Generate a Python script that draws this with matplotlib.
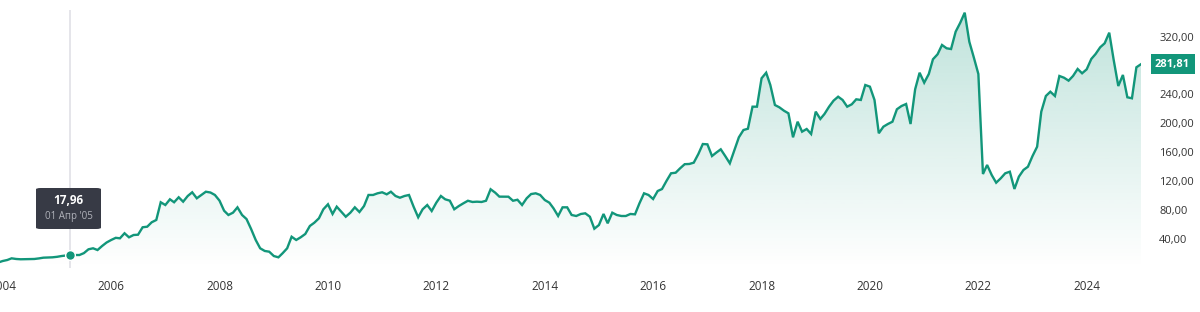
import numpy as np
import pandas as pd
import matplotlib
matplotlib.use('Agg')
import matplotlib.pyplot as plt
import matplotlib.dates as mdates
from matplotlib.patches import Polygon, FancyBboxPatch

plt.rcParams['font.family'] = ['Open Sans', 'DejaVu Sans']

# Monthly prices, Dec 2003 .. Jan 2025
start_month = '2003-12-01'
prices = [
    7.3, 9.4, 10.8, 13.1, 12.2, 11.8, 11.9, 12.0, 12.2, 13.0, 14.0, 14.3, 14.5,   # 2003-12 .. 2004-12
    15.2, 16.3, 17.0, 17.96, 17.7, 17.7, 20.3, 25.6, 27.0, 24.6, 30.2, 35.0,      # 2005
    38.5, 41.5, 40.8, 47.8, 42.2, 45.4, 45.8, 56.1, 56.9, 63.0, 66.2, 90.7,       # 2006
    86.9, 94.8, 90.7, 97.6, 91.5, 99.4, 104.5, 96.2, 100.8, 105.3, 104.2, 100.8,  # 2007
    93.0, 79.0, 73.1, 76.3, 83.7, 73.1, 67.5, 53.7, 38.5, 27.0, 23.3, 22.3,       # 2008
    16.3, 14.5, 20.1, 27.0, 43.0, 38.5, 42.2, 46.8, 57.9, 62.4, 68.5, 81.0,       # 2009
    87.9, 74.5, 84.6, 77.6, 70.7, 76.3, 83.7, 77.2, 85.5, 100.8, 100.8, 103.1,    # 2010
    104.5, 101.7, 105.3, 99.4, 97.0, 99.4, 100.8, 84.6, 69.9, 81.0, 86.9, 78.6,   # 2011
    90.1, 99.4, 94.8, 92.9, 81.0, 85.5, 89.2, 92.8, 91.1, 91.5, 91.1, 92.8,       # 2012
    108.7, 104.0, 98.5, 98.4, 98.4, 92.8, 94.2, 86.9, 96.2, 102.1, 103.1, 100.8,  # 2013
    93.8, 90.1, 82.3, 71.7, 83.7, 83.7, 73.1, 71.7, 74.5, 75.4, 70.7, 54.1,       # 2014
    59.2, 74.5, 61.6, 76.3, 73.1, 71.7, 71.7, 74.5, 74.0, 89.2, 103.1, 100.8,     # 2015
    95.2, 106.3, 109.0, 120.5, 130.8, 131.6, 137.7, 143.4, 143.7, 145.5, 157.5, 171.3,  # 2016
    170.9, 154.7, 159.3, 164.0, 154.7, 144.6, 162.1, 180.6, 190.7, 192.5, 223.0, 223.0,  # 2017
    262.3, 270.0, 253.0, 225.3, 222.1, 217.4, 213.8, 180.6, 202.2, 188.4, 192.1, 185.2,  # 2018
    216.1, 206.0, 212.9, 223.0, 231.3, 236.8, 232.3, 223.0, 226.3, 233.2, 232.3, 253.0,  # 2019
    250.7, 232.3, 186.2, 195.3, 199.0, 202.2, 219.4, 223.9, 226.7, 199.0, 247.1, 270.0,  # 2020
    256.2, 268.2, 288.6, 295.5, 308.4, 303.8, 302.8, 326.8, 339.2, 353.1, 312.9, 291.4,  # 2021
    268.2, 129.8, 142.3, 128.4, 117.8, 123.9, 130.8, 133.0, 109.1, 126.1, 135.4, 139.9,  # 2022
    154.7, 167.6, 216.1, 237.8, 243.7, 237.8, 265.5, 263.1, 259.0, 265.5, 275.2, 269.2,  # 2023
    274.7, 289.0, 295.9, 305.2, 310.7, 325.4, 287.6, 251.6, 266.9, 236.0, 234.6, 277.5,  # 2024
    281.81,                                                                              # 2025-01
]
dates = pd.date_range(start_month, periods=len(prices), freq='MS')

year_ticks = list(range(2004, 2025, 2))
price_ticks = [40, 80, 120, 160, 200, 240, 320]
hover_index = 16  # 01 Apr 2005
ru_months = ['Янв', 'Фев', 'Мар', 'Апр', 'Май', 'Июн',
             'Июл', 'Авг', 'Сен', 'Окт', 'Ноя', 'Дек']

green = '#12967a'
text_grey = '#333333'


def ru_num(v):
    return f"{v:,.2f}".replace(',', ' ').replace('.', ',')


x = mdates.date2num(dates)
y = np.array(prices)

fig = plt.figure(figsize=(12, 3.12), dpi=100)
ax = fig.add_axes([0, 1 - 267.8 / 312, 1141 / 1200, 257.8 / 312])

# x scale: 2004-01-01 sits at px 2.7, 2025-01-01 at px 1140.7
d04 = mdates.date2num(pd.Timestamp('2004-01-01'))
d25 = mdates.date2num(pd.Timestamp('2025-01-01'))
days_per_px = (d25 - d04) / (1140.7 - 2.7)
ax.set_xlim(d04 - 2.7 * days_per_px, x[-1])
ax.set_ylim(0, 356.8)

# gradient fill under the line
grad = np.zeros((256, 1, 4))
grad[..., 0:3] = matplotlib.colors.to_rgb(green)
grad[:, 0, 3] = np.linspace(0.27, 0.0, 256)
img = ax.imshow(grad, extent=[x[0], x[-1], 0, 356.8], aspect='auto',
                origin='upper', zorder=1, interpolation='bilinear')
verts = np.column_stack([np.r_[x[0], x, x[-1]], np.r_[0, y, 0]])
clip = Polygon(verts, closed=True, transform=ax.transData,
               facecolor='none', edgecolor='none')
ax.add_patch(clip)
img.set_clip_path(clip)

# crosshair at hovered point
hx, hy = x[hover_index], y[hover_index]
ax.axvline(hx, color='#e3e3e8', lw=1.3, zorder=0)

ax.plot(x, y, color=green, lw=1.7, zorder=3, solid_joinstyle='miter')
ax.plot([hx], [hy], 'o', ms=7, color=green, mec='white', mew=1.0, zorder=4)

# axes styling
for s in ax.spines.values():
    s.set_visible(False)
ax.set_xticks([mdates.date2num(pd.Timestamp(f'{yr}-01-01')) for yr in year_ticks])
ax.set_xticklabels([str(yr) for yr in year_ticks])
ax.yaxis.tick_right()
ax.set_yticks(price_ticks)
ax.set_yticklabels([ru_num(t) for t in price_ticks])
ax.tick_params(axis='x', length=0, pad=9, labelsize=8.5, colors=text_grey)
ax.tick_params(axis='y', length=0, pad=13, labelsize=8, colors=text_grey)
ax.set_facecolor('white')

# last price badge
ax.annotate(ru_num(y[-1]), xy=(1, y[-1]), xycoords=('axes fraction', 'data'),
            xytext=(14, 0), textcoords='offset pixels', ha='left', va='center',
            color='white', fontsize=8, fontweight='bold', annotation_clip=False,
            bbox=dict(boxstyle='square,pad=0.4', fc=green, ec='none'))

# tooltip
fig.patches.append(FancyBboxPatch((36 / 1200, 1 - 229 / 312), 65 / 1200, 41 / 312,
                                  boxstyle='round,pad=0,rounding_size=0.004',
                                  transform=fig.transFigure, fc='#373a45', ec='none',
                                  zorder=5))
d = dates[hover_index]
fig.text(68.5 / 1200, 1 - 201 / 312, ru_num(hy), ha='center', va='center',
         color='white', fontsize=8.5, fontweight='bold', zorder=6)
fig.text(68.5 / 1200, 1 - 217 / 312, f"{d.day:02d} {ru_months[d.month - 1]} '{d.year % 100:02d}",
         ha='center', va='center', color='#b0b2ba', fontsize=7, zorder=6)

fig.savefig('out.png', dpi=100, facecolor='white')
